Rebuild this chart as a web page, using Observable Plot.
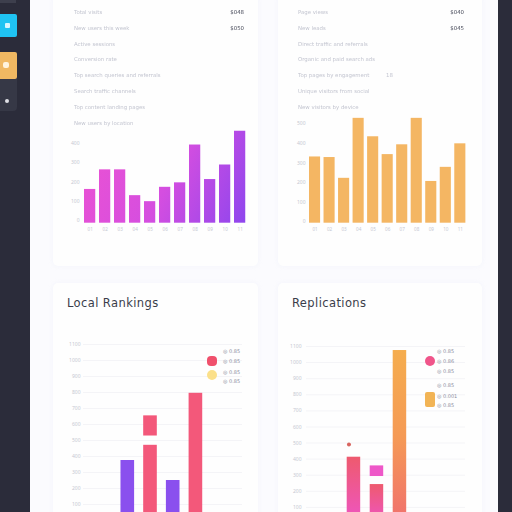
<!DOCTYPE html>
<html><head><meta charset="utf-8">
<script src="https://cdn.jsdelivr.net/npm/d3@7"></script>
<script src="https://cdn.jsdelivr.net/npm/@observablehq/plot@0.6"></script>
<style>
html,body{margin:0;padding:0;width:512px;height:512px;overflow:hidden;background:#fbfbfe;font-family:"DejaVu Sans",sans-serif}
.abs{position:absolute}
.side{background:#2b2c3a;top:0;height:512px}
.panel{background:#fefefe;box-shadow:0 0 5px rgba(215,220,240,.22);border-radius:5px;overflow:hidden}
.panel svg{position:absolute;left:0;top:0;background:transparent}
.row{position:absolute;font-size:5.4px;line-height:7px;color:#c3c5d0;white-space:nowrap;filter:blur(.25px)}
.val{color:#4a4d5c;font-size:5.4px}
.title{position:absolute;font-size:11.5px;line-height:14px;color:#3a3d4a;letter-spacing:.4px;white-space:nowrap}
.leg{position:absolute;font-size:5px;line-height:6px;color:#8b8fa0;white-space:nowrap}
.swatch{position:absolute}
</style></head><body>
<script>
// ---- data ----
const salesMonths=["01","02","03","04","05","06","07","08","09","10","11"];
const salesValues=[174,275,275,142,111,185,208,403,225,300,474];
const salesTicks=[0,100,200,300,400];
const visitValues=[338,335,229,535,441,350,400,535,213,285,405];
const visitTicks=[0,100,200,300,400,500];
const salesRows=["Total visits","New users this week","Active sessions","Conversion rate","Top search queries and referrals","Search traffic channels","Top content landing pages","New users by location"];
const salesRowValues=["$048","$050"];
const visitRows=["Page views","New leads","Direct traffic and referrals","Organic and paid search ads","Top pages by engagement","Unique visitors from social","New visitors by device"];
const visitRowValues=["$040","$045"];
const visitSmall="18";
const rankCats=["A","B","C","D"];
const rankSeries=["Rank","Rank","Local","Local","Rank"];
const rankX=["B","D","A","C","B"];
const rankLow=[0,0,0,0,528];
const rankHigh=[470,795,375,250,654];
const rankTicks=[100,200,300,400,500,600,700,800,900,1000,1100];
const repCats=["A","B","C"];
const repX=["A","B","B","C"];
const repLow=[0,0,292,0];
const repHigh=[412,242,358,1075];
const repSer=["p","p","m","o"];
const repDot=491;
const legendLeft=["◎ 0.85","◎ 0.85","◎ 0.85","◎ 0.85"];
const legendRight=["◎ 0.85","◎ 0.86","◎ 0.85","◎ 0.85","◎ 0.001","◎ 0.85"];

// ---- layout helpers ----
const add=(cls,css,parent=document.body,txt)=>{const e=document.createElement("div");e.className=cls;e.style.cssText=css;if(txt!=null)e.textContent=txt;parent.appendChild(e);return e};
function defs(list){return ()=>{const d=d3.create("svg:defs");
  for(const g of list){const l=d.append("linearGradient").attr("id",g.id);
    for(const k of ["x1","y1","x2","y2","gradientUnits"]) if(g[k]!=null) l.attr(k,g[k]);
    g.stops.forEach((c,i)=>l.append("stop").attr("offset",i/(g.stops.length-1)).attr("stop-color",c));}
  return d.node();};}
const axis=(ticks,dy,pad)=>Plot.axisY(ticks,{anchor:"left",tickSize:0,tickPadding:pad,fontSize:5,fill:"#c6c8d2",dy,label:null,tickFormat:"d"});

// ---- page chrome ----
add("abs side","left:0;width:30px");
add("abs side","left:498px;width:14px");
add("abs","left:0;top:0;width:16px;height:3px;background:#3d3f4d");
add("abs","left:0;top:14px;width:17px;height:23px;background:#1fc3f2;border-radius:0 2px 2px 0");
add("abs","left:0;top:52px;width:17px;height:27px;background:#f0b862;border-radius:0 2px 2px 0");
add("abs","left:0;top:79px;width:17px;height:32px;background:#363846;border-radius:0 0 4px 0");
add("abs","left:5px;top:23px;width:5px;height:5px;background:#d8f6ff;border-radius:1px");
add("abs","left:3px;top:62px;width:6px;height:6px;background:#fff3dc;border-radius:2px");
add("abs","left:5px;top:99px;width:4px;height:4px;background:#dfe0e6;border-radius:50%");

const P1=add("abs panel","left:53px;top:-6px;width:205px;height:272px");
const P2=add("abs panel","left:278px;top:-6px;width:204px;height:272px");
const P3=add("abs panel","left:53px;top:283px;width:205px;height:260px");
const P4=add("abs panel","left:278px;top:283px;width:204px;height:260px");

// rows
function rows(p,list,vals,x,vx){const ys=[12,28,44,59,75,91,107,123];
  list.forEach((t,i)=>add("row",`left:${x}px;top:${ys[i]+6-3.5}px`,p,t));
  vals.forEach((t,i)=>add("row val",`right:${vx}px;top:${ys[i]+6-3.5}px`,p,t));}
rows(P1,salesRows,salesRowValues,21,14);
rows(P2,visitRows,visitRowValues,20,18);
add("row",`left:108px;top:78px`,P2,visitSmall);

// ---- top-left chart ----
P1.appendChild(Plot.plot({width:205,height:272,marginLeft:31,marginRight:9,marginTop:0,marginBottom:43.3,
  style:{background:"transparent"},
  x:{domain:salesMonths,range:[27.25,196],padding:.25,round:false},
  y:{domain:[0,500],range:[228.7,131.7]},
  marks:[
    defs([{id:"gradSales",gradientUnits:"userSpaceOnUse",x1:30,y1:150,x2:195,y2:232,stops:["#ec52d2","#d54ee0","#8b45ee"]}]),
    Plot.barY(salesValues.map((v,i)=>({m:salesMonths[i],v})),{x:"m",y:"v",fill:"url(#gradSales)"}),
    axis(salesTicks,-2.5,5),
    Plot.axisX({anchor:"bottom",tickSize:0,tickPadding:5,fontSize:4.6,fill:"#c6c8d2",label:null})
  ]}));

// ---- top-right chart ----
P2.appendChild(Plot.plot({width:204,height:272,marginLeft:31,marginRight:13,marginTop:0,marginBottom:43.3,
  style:{background:"transparent"},
  x:{domain:salesMonths,range:[27.57,190.8],padding:.236,round:false},
  y:{domain:[0,600],range:[228.7,111.1]},
  marks:[
    Plot.barY(visitValues.map((v,i)=>({m:salesMonths[i],v})),{x:"m",y:"v",fill:"#f4b663"}),
    axis(visitTicks,-1.5,4),
    Plot.axisX({anchor:"bottom",tickSize:0,tickPadding:5,fontSize:4.6,fill:"#c6c8d2",label:null})
  ]}));

// ---- bottom-left chart ----
add("title","left:14px;top:13px",P3,"Local Rankings");
P3.appendChild(Plot.plot({width:205,height:260,marginLeft:30,marginRight:16,marginTop:0,marginBottom:23,
  style:{background:"transparent"},
  x:{axis:null,domain:rankCats,range:[58.4,158.3],padding:.4,round:false},
  y:{domain:[0,1100],range:[237,61]},
  color:{domain:["Rank","Local"],range:["#f3587a","#8a50ee"]},
  marks:[
    Plot.gridY(rankTicks,{stroke:"#f4f4f7",strokeOpacity:1}),
    Plot.barY(rankHigh.map((h,i)=>({x:rankX[i],l:rankLow[i],h,s:rankSeries[i]})),{x:"x",y1:"l",y2:"h",fill:"s"}),
    axis(rankTicks,0,3)
  ]}));
add("swatch","left:154px;top:73px;width:10px;height:10px;background:#f0506c;border-radius:4px",P3);
add("swatch","left:154px;top:87px;width:10px;height:10px;background:#fbe08a;border-radius:50%",P3);
legendLeft.forEach((t,i)=>add("leg",`left:170px;top:${[65,75,86,95][i]}px`,P3,t));

// ---- bottom-right chart ----
add("title","left:14px;top:13px",P4,"Replications");
P4.appendChild(Plot.plot({width:204,height:260,marginLeft:28,marginRight:17,marginTop:0,marginBottom:20,
  style:{background:"transparent"},
  x:{axis:null,domain:repCats,range:[59.2,137.7],padding:.413,round:false},
  y:{domain:[0,1100],range:[240,63]},
  color:{domain:["p","m","o"],range:["url(#gradPink)","#ee58c8","url(#gradOrange)"]},
  marks:[
    defs([{id:"gradPink",x1:0,y1:0,x2:0,y2:1,stops:["#ee5a6e","#ee55c4"]},
          {id:"gradOrange",x1:0,y1:0,x2:0,y2:1,stops:["#f5ad4e","#f59a55","#f06f6e"]}]),
    Plot.gridY(rankTicks,{stroke:"#f4f4f7",strokeOpacity:1}),
    Plot.barY(repHigh.map((h,i)=>({x:repX[i],l:repLow[i],h,s:repSer[i]})),{x:"x",y1:"l",y2:"h",fill:"s"}),
    Plot.dot([repDot],{x:()=>"A",y:d=>d,dx:-5,r:2,fill:"#d8655f"}),
    axis(rankTicks,0,5)
  ]}));
add("swatch","left:147px;top:73px;width:10px;height:10px;background:#f0558a;border-radius:50%",P4);
add("swatch","left:147px;top:109px;width:10px;height:15px;background:#f2b455;border-radius:2px",P4);
legendRight.forEach((t,i)=>add("leg",`left:159px;top:${[65,75,85,99,110,119][i]}px`,P4,t));
</script>
</body></html>
